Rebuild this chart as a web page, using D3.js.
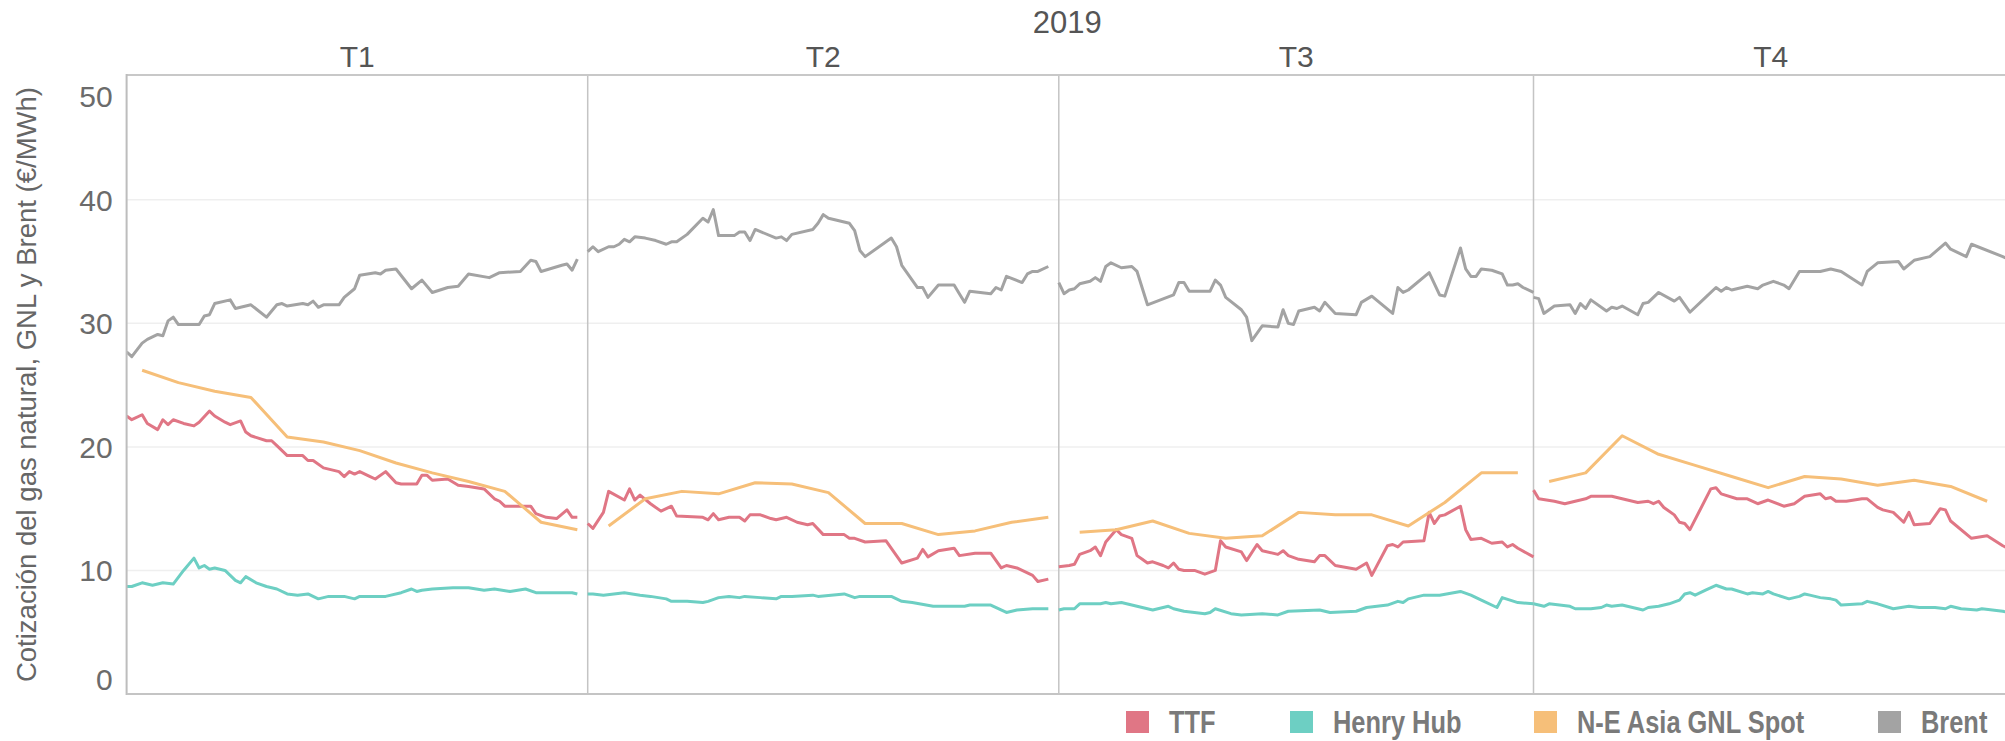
<!DOCTYPE html>
<meta charset="utf-8">
<html>
<head>
<title>Cotizaciones 2019</title>
<script src="https://d3js.org/d3.v7.min.js"></script>
<style>
  body { margin: 0; background: #fff; }
  svg text { font-family: "Liberation Sans", Arial, sans-serif; }
</style>
</head>
<body>
<div id="chart"></div>
<script>
/* data: [day of year 2019, value in €/MWh] */
var quarters = ["T1", "T2", "T3", "T4"];
var quarterFirstDay = [1, 91, 182, 274];
var quarterLastDay = [90, 181, 273, 365];
var yearLabel = "2019";
var yTicks = [0, 10, 20, 30, 40, 50];
var seriesNames = ["TTF", "Henry Hub", "N-E Asia GNL Spot", "Brent"];

var ttf = [
  [1,22.5],[2,22.2],[4,22.6],[5,21.9],[7,21.4],[8,22.2],[9,21.8],[10,22.2],[12,21.9],[14,21.7],[15,22.0],[17,22.9],[18,22.5],[20,22.0],[21,21.8],[23,22.1],[24,21.2],[25,20.9],[28,20.5],[29,20.5],[30,20.1],[32,19.3],[35,19.3],[36,18.9],[37,18.9],[39,18.3],[41,18.1],[42,18.0],[43,17.6],[44,18.0],[45,17.8],[46,18.0],[48,17.6],[49,17.4],[51,18.0],[53,17.1],[54,17.0],[57,17.0],[58,17.7],[59,17.7],[60,17.3],[63,17.4],[65,16.9],[67,16.8],[70,16.6],[72,15.8],[73,15.6],[74,15.2],[79,15.2],[80,14.6],[82,14.3],[84,14.2],[86,14.9],[87,14.3],[88,14.3],
  [91,13.8],[92,13.4],[94,14.7],[95,16.4],[98,15.7],[99,16.6],[100,15.7],[101,16.1],[103,15.4],[105,14.8],[107,15.2],[108,14.4],[113,14.3],[114,14.1],[115,14.6],[116,14.1],[118,14.3],[120,14.3],[121,14.0],[122,14.5],[124,14.5],[126,14.2],[127,14.1],[129,14.3],[131,13.9],[133,13.7],[134,13.8],[136,12.9],[140,12.9],[141,12.6],[142,12.6],[144,12.3],[148,12.4],[151,10.6],[154,11.0],[155,11.7],[156,11.1],[158,11.6],[161,11.8],[162,11.2],[165,11.4],[168,11.4],[170,10.2],[171,10.4],[173,10.2],[176,9.6],[177,9.1],[179,9.3],
  [182,10.3],[184,10.4],[185,10.5],[186,11.3],[188,11.6],[189,11.9],[190,11.2],[191,12.3],[193,13.3],[194,12.9],[196,12.6],[197,11.2],[198,10.9],[199,10.6],[200,10.7],[202,10.4],[203,10.2],[204,10.6],[205,10.1],[206,10.0],[208,10.0],[210,9.7],[212,10.0],[213,12.4],[214,11.9],[217,11.5],[218,10.8],[220,12.1],[221,11.6],[224,11.3],[225,11.6],[226,11.2],[228,10.9],[231,10.7],[232,11.2],[233,11.2],[235,10.4],[239,10.1],[241,10.6],[242,9.6],[245,12.0],[246,12.1],[247,11.9],[248,12.3],[252,12.4],[253,14.7],[254,13.8],[255,14.4],[256,14.5],[259,15.2],[260,13.3],[261,12.5],[263,12.6],[265,12.2],[267,12.3],[268,11.9],[269,12.1],[270,11.8],[273,11.1],
  [274,16.5],[275,15.8],[278,15.6],[280,15.4],[282,15.6],[284,15.8],[285,16.0],[289,16.0],[291,15.8],[294,15.5],[296,15.6],[297,15.4],[298,15.6],[299,15.1],[301,14.5],[302,13.9],[303,13.8],[304,13.3],[308,16.6],[309,16.7],[310,16.2],[313,15.8],[315,15.8],[317,15.4],[319,15.7],[322,15.2],[324,15.4],[326,16.0],[329,16.2],[330,15.8],[331,15.9],[332,15.6],[334,15.6],[337,15.8],[338,15.8],[340,15.1],[341,14.9],[343,14.7],[345,13.9],[346,14.7],[347,13.7],[350,13.8],[352,15.0],[353,14.9],[354,14.0],[358,12.6],[361,12.8],[364,12.0],[365,11.8]
];

var henryHub = [
  [1,8.7],[2,8.7],[4,9.0],[6,8.8],[8,9.0],[10,8.9],[12,10.0],[14,11.0],[15,10.2],[16,10.4],[17,10.1],[18,10.2],[20,10.0],[22,9.2],[23,9.0],[24,9.5],[26,9.0],[28,8.7],[30,8.5],[32,8.1],[34,8.0],[36,8.1],[38,7.7],[40,7.9],[43,7.9],[45,7.7],[46,7.9],[51,7.9],[54,8.2],[56,8.5],[57,8.3],[58,8.4],[60,8.5],[64,8.6],[67,8.6],[70,8.4],[72,8.5],[75,8.3],[78,8.5],[80,8.2],[84,8.2],[87,8.2],[88,8.1],
  [91,8.1],[92,8.1],[94,8.0],[96,8.1],[98,8.2],[101,8.0],[103,7.9],[106,7.7],[107,7.5],[110,7.5],[113,7.4],[114,7.5],[116,7.8],[118,7.9],[120,7.8],[121,7.9],[124,7.8],[127,7.7],[128,7.9],[130,7.9],[134,8.0],[135,7.9],[140,8.1],[142,7.8],[143,7.9],[148,7.9],[149,7.9],[151,7.5],[153,7.4],[157,7.1],[161,7.1],[163,7.1],[164,7.2],[168,7.2],[171,6.6],[173,6.8],[176,6.9],[179,6.9],
  [182,6.8],[183,6.9],[184,6.9],[185,6.9],[186,7.3],[190,7.3],[191,7.4],[192,7.3],[194,7.4],[195,7.3],[197,7.1],[200,6.8],[203,7.1],[204,6.9],[206,6.7],[208,6.6],[210,6.5],[211,6.6],[212,6.9],[215,6.5],[217,6.4],[221,6.5],[224,6.4],[226,6.7],[232,6.8],[234,6.6],[239,6.7],[241,7.0],[245,7.2],[247,7.5],[248,7.4],[249,7.7],[252,8.0],[255,8.0],[259,8.3],[261,8.0],[263,7.6],[266,7.0],[267,7.8],[270,7.4],[273,7.3],
  [274,7.3],[276,7.1],[277,7.3],[279,7.2],[281,7.1],[282,6.9],[285,6.9],[287,7.0],[288,7.2],[289,7.1],[291,7.2],[292,7.1],[295,6.8],[296,7.0],[298,7.1],[300,7.3],[302,7.6],[303,8.1],[304,8.2],[305,8.0],[307,8.4],[309,8.8],[311,8.5],[312,8.5],[315,8.1],[316,8.2],[318,8.1],[319,8.3],[320,8.1],[323,7.7],[325,7.9],[326,8.1],[327,8.0],[329,7.8],[331,7.7],[332,7.6],[333,7.2],[337,7.3],[338,7.5],[340,7.3],[343,6.9],[346,7.1],[348,7.0],[351,7.0],[353,6.9],[354,7.1],[356,6.9],[359,6.8],[360,6.9],[364,6.7],[365,6.6]
];

var neAsiaGnl = [
  [4,26.2],[11,25.2],[18,24.5],[25,24.0],[32,20.8],[39,20.4],[46,19.7],[53,18.7],[60,17.9],[67,17.2],[74,16.4],[81,13.9],[88,13.3],
  [95,13.6],[102,15.8],[109,16.4],[116,16.2],[123,17.1],[130,17.0],[137,16.3],[144,13.8],[151,13.8],[158,12.9],[165,13.2],[172,13.9],[179,14.3],
  [186,13.1],[193,13.3],[200,14.0],[207,13.0],[214,12.6],[221,12.8],[228,14.7],[235,14.5],[242,14.5],[249,13.6],[256,15.5],[263,17.9],[270,17.9],
  [277,17.2],[284,17.9],[291,20.9],[298,19.4],[305,18.5],[312,17.6],[319,16.7],[326,17.6],[333,17.4],[340,16.9],[347,17.3],[354,16.8],[361,15.6]
];

var brent = [
  [1,27.7],[2,27.3],[4,28.4],[5,28.7],[7,29.1],[8,29.0],[9,30.2],[10,30.5],[11,29.9],[15,29.9],[16,30.6],[17,30.7],[18,31.6],[21,31.9],[22,31.2],[25,31.5],[28,30.5],[30,31.5],[31,31.6],[32,31.4],[35,31.6],[36,31.5],[37,31.8],[38,31.3],[39,31.5],[42,31.5],[43,32.1],[45,32.8],[46,33.9],[49,34.1],[50,34.0],[51,34.3],[53,34.4],[56,32.8],[58,33.5],[60,32.5],[63,32.9],[65,33.0],[67,34.0],[71,33.7],[73,34.1],[77,34.2],[79,35.1],[80,35.0],[81,34.2],[85,34.7],[86,34.8],[87,34.3],[88,35.2],
  [91,35.8],[92,36.2],[93,35.8],[95,36.2],[96,36.2],[97,36.4],[98,36.8],[99,36.6],[100,37.0],[102,36.9],[104,36.7],[106,36.4],[107,36.6],[108,36.6],[110,37.2],[113,38.5],[114,38.2],[115,39.2],[116,37.1],[119,37.1],[120,37.4],[121,37.4],[122,36.7],[123,37.6],[127,36.9],[128,37.0],[129,36.7],[130,37.2],[134,37.6],[135,38.1],[136,38.8],[137,38.5],[141,38.1],[142,37.5],[143,35.9],[144,35.4],[149,36.9],[150,36.2],[151,34.7],[154,32.9],[155,32.9],[156,32.1],[158,33.1],[161,33.1],[162,32.4],[163,31.7],[164,32.6],[168,32.4],[169,32.9],[170,32.7],[171,33.8],[174,33.3],[175,34.0],[176,34.2],[177,34.2],[179,34.6],
  [182,33.3],[183,32.4],[184,32.7],[185,32.8],[186,33.2],[188,33.4],[189,33.7],[190,33.4],[191,34.6],[192,34.9],[194,34.5],[196,34.6],[197,34.2],[199,31.5],[204,32.3],[205,33.3],[206,33.3],[207,32.6],[211,32.6],[212,33.5],[213,33.1],[214,32.1],[217,31.1],[218,30.5],[219,28.6],[221,29.8],[224,29.7],[225,31.1],[226,30.0],[227,29.9],[228,31.0],[231,31.3],[232,31.0],[233,31.7],[235,30.8],[239,30.7],[240,31.7],[242,32.2],[246,30.8],[247,32.9],[248,32.5],[249,32.7],[253,34.1],[255,32.3],[256,32.2],[259,36.1],[260,34.4],[261,33.8],[262,33.8],[263,34.4],[265,34.3],[267,34.0],[268,33.1],[269,33.1],[270,33.2],[271,32.9],[273,32.5],
  [274,32.1],[275,32.0],[276,30.8],[278,31.4],[281,31.5],[282,30.8],[283,31.6],[284,31.2],[285,31.9],[288,31.0],[289,31.3],[290,31.2],[291,31.4],[294,30.7],[295,31.6],[296,31.7],[298,32.5],[301,31.8],[302,32.1],[304,30.9],[307,32.1],[309,32.9],[310,32.6],[311,32.9],[312,32.7],[315,33.0],[317,32.8],[318,33.1],[320,33.4],[322,33.1],[323,32.8],[325,34.2],[329,34.2],[331,34.4],[333,34.2],[337,33.1],[338,34.2],[340,34.9],[344,35.0],[345,34.4],[347,35.1],[350,35.4],[353,36.5],[354,36.0],[357,35.4],[358,36.4],[364,35.4],[365,35.2]
];

/* layout */
var totalWidth = 2005, totalHeight = 741;
var plot = {top: 75, bottom: 694, left: 126.6};
var paneEdges = [126.6, 587.7, 1058.8, 1533.5, 2008];
var colors = ["#e07685", "#6dcfc3", "#f6bf79", "#a3a3a3"];
var legendX = [1126, 1290, 1534, 1878];
var allSeries = [ttf, henryHub, neAsiaGnl, brent];

var svg = d3.select("#chart").append("svg")
    .attr("width", totalWidth)
    .attr("height", totalHeight);

var y = d3.scaleLinear().domain([0, 50.1]).range([plot.bottom, plot.top]);

/* one x scale per quarter pane */
var xScales = quarters.map(function(q, i) {
  return d3.scaleLinear()
    .domain([quarterFirstDay[i], quarterLastDay[i]])
    .range([paneEdges[i], paneEdges[i + 1]]);
});

/* gridlines */
svg.append("g").selectAll("line")
  .data(yTicks.filter(function(d) { return d > 0 && d < 50; }))
  .enter().append("line")
  .attr("x1", plot.left).attr("x2", totalWidth)
  .attr("y1", function(d) { return y(d); }).attr("y2", function(d) { return y(d); })
  .style("stroke", "#efefef").style("stroke-width", 1.5);

/* quarter dividers */
svg.append("g").selectAll("line")
  .data(paneEdges.slice(1, 4))
  .enter().append("line")
  .attr("x1", function(d) { return d; }).attr("x2", function(d) { return d; })
  .attr("y1", plot.top).attr("y2", plot.bottom)
  .style("stroke", "#c4c4c4").style("stroke-width", 1.5);

/* lines, broken at each quarter */
var line = d3.line()
  .x(function(d) { return d.x; })
  .y(function(d) { return y(d[1]); });

var lineG = svg.append("g").attr("clip-path", "url(#plotClip)");
svg.append("clipPath").attr("id", "plotClip").append("rect")
  .attr("x", plot.left).attr("y", plot.top)
  .attr("width", totalWidth - plot.left).attr("height", plot.bottom - plot.top);

allSeries.forEach(function(series, s) {
  quarters.forEach(function(q, i) {
    var pts = series.filter(function(d) {
      return d[0] >= quarterFirstDay[i] && d[0] <= quarterLastDay[i];
    }).map(function(d) {
      var p = [d[0], d[1]];
      p.x = xScales[i](d[0]);
      return p;
    });
    lineG.append("path")
      .datum(pts)
      .attr("d", line)
      .style("fill", "none")
      .style("stroke", colors[s])
      .style("stroke-width", 3)
      .style("stroke-linejoin", "round");
  });
});

/* frame: top, left, bottom */
svg.append("line").attr("x1", plot.left).attr("x2", totalWidth)
  .attr("y1", plot.top).attr("y2", plot.top)
  .style("stroke", "#c8c8c8").style("stroke-width", 2);
svg.append("line").attr("x1", plot.left).attr("x2", plot.left)
  .attr("y1", plot.top - 1).attr("y2", plot.bottom + 1)
  .style("stroke", "#bdbdbd").style("stroke-width", 2);
svg.append("line").attr("x1", plot.left).attr("x2", totalWidth)
  .attr("y1", plot.bottom).attr("y2", plot.bottom)
  .style("stroke", "#c4c4c4").style("stroke-width", 2);

/* y axis labels (end labels pulled inside, as in the original) */
var yAxis = svg.append("g")
  .attr("transform", "translate(" + (plot.left - 14) + ",0)")
  .call(d3.axisLeft(y).tickValues(yTicks).tickSize(0).tickPadding(0));
yAxis.select(".domain").remove();
yAxis.selectAll("text")
  .style("font-size", "30px")
  .style("fill", "#6b6b6b")
  .attr("dy", function(d) { return d === 50 ? "1.0em" : (d === 0 ? "-0.15em" : "0.35em"); });

svg.append("text")
  .attr("transform", "translate(36," + ((plot.top + plot.bottom) / 2) + ") rotate(-90)")
  .attr("text-anchor", "middle")
  .style("font-size", "27.5px")
  .style("fill", "#666")
  .text("Cotización del gas natural, GNL y Brent (€/MWh)");

/* column headers */
svg.append("text")
  .attr("x", (paneEdges[0] + paneEdges[4]) / 2)
  .attr("y", 33)
  .attr("text-anchor", "middle")
  .style("font-size", "31px")
  .style("fill", "#555")
  .text(yearLabel);

svg.append("g").selectAll("text")
  .data(quarters)
  .enter().append("text")
  .attr("x", function(d, i) { return (paneEdges[i] + paneEdges[i + 1]) / 2; })
  .attr("y", 67)
  .attr("text-anchor", "middle")
  .style("font-size", "30px")
  .style("fill", "#555")
  .text(function(d) { return d; });

/* legend: narrow bold look, made by squeezing Liberation Sans Bold */
var legend = svg.append("g").selectAll("g")
  .data(seriesNames)
  .enter().append("g")
  .attr("transform", function(d, i) { return "translate(" + legendX[i] + ",711)"; });
legend.append("rect")
  .attr("width", 23).attr("height", 22)
  .style("fill", function(d, i) { return colors[i]; });
legend.append("text")
  .attr("transform", "translate(43,11) scale(0.82,1)")
  .attr("dy", "0.36em")
  .style("font-weight", "bold")
  .style("font-size", "31px")
  .style("fill", "#7a7a7a")
  .text(function(d) { return d; });
</script>
</body>
</html>
